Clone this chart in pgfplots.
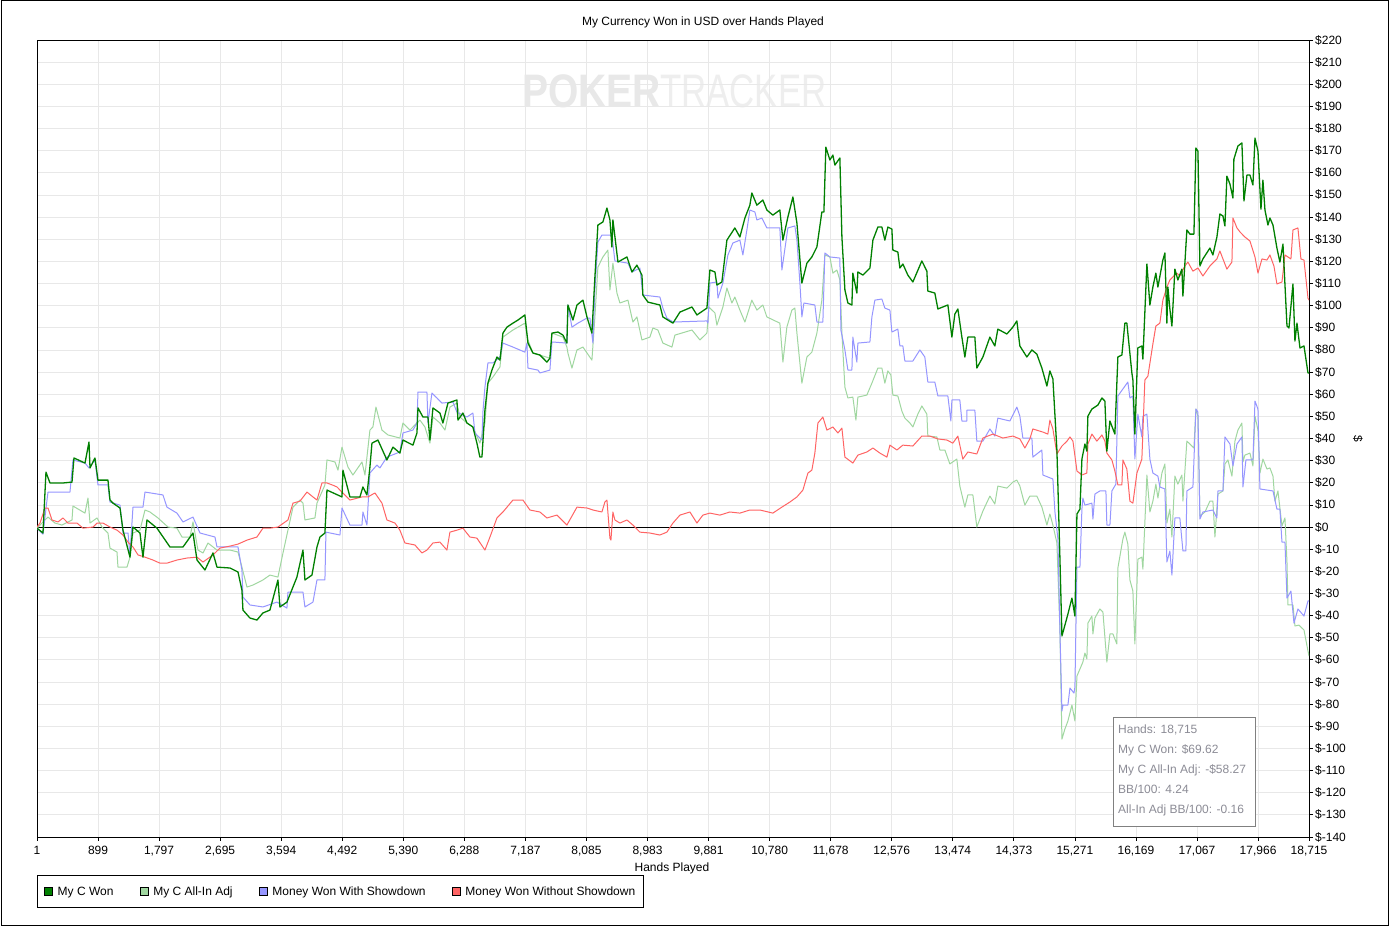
\documentclass[border=0pt]{standalone}
\usepackage{pgfplots}
\pgfplotsset{compat=1.18}
\usepackage{pgfplotstable}
\usepackage{fontspec}
\setmainfont{Liberation Sans}
\definecolor{cwon}{RGB}{0,128,0}
\definecolor{cadj}{RGB}{160,215,160}
\definecolor{csd}{RGB}{150,150,255}
\definecolor{cnsd}{RGB}{255,100,100}
\definecolor{wm}{RGB}{232,232,232}
\definecolor{wm2}{RGB}{238,238,238}
\definecolor{infotxt}{RGB}{140,140,150}

\pgfplotstableread{
x y
1 -0.5
89 -2.7
133 24.8
192 19.9
383 19.9
516 20.3
545 31.2
707 28.9
766 38.4
781 26.7
854 31.2
898 21.2
1045 21.2
1075 12.2
1119 10.8
1222 8.6
1266 -1.4
1369 -13.6
1413 0
1516 -2.7
1560 -13.6
1619 3.2
1766 -0.5
1957 -9.0
2149 -9.0
2296 -2.7
2355 -14.9
2472 -19.4
2590 -11.7
2649 -18.1
2840 -18.5
2958 -20.3
3016 -28.5
3031 -37.5
3134 -41.1
3237 -42.0
3325 -38.8
3428 -37.5
3546 -23.9
3575 -36.1
3678 -33.9
3825 -22.6
3914 -10.4
3943 -23.9
4046 -21.7
4120 -9.0
4164 -4.5
4237 -2.7
4267 16.7
4488 13.6
4502 25.7
4605 13.6
4752 13.6
4796 18.1
4855 14.5
4899 27.1
4929 37.9
5017 39.3
5149 30.3
5238 36.1
5340 33.4
5385 39.3
5532 37.0
5591 42.5
5606 53.8
5679 49.7
5753 49.7
5782 39.3
5826 53.8
5929 51.5
5973 47.0
6047 56.0
6179 57.4
6194 48.3
6267 51.5
6326 47.0
6414 45.2
6473 37.9
6517 31.6
6547 31.6
6591 52.8
6635 65.0
6694 70.9
6768 76.8
6812 75.4
6856 87.6
6915 90.3
7003 92.1
7077 93.5
7179 95.8
7224 83.1
7297 78.6
7400 77.7
7503 74.5
7547 76.3
7577 87.6
7665 88.1
7739 86.7
7797 83.1
7812 100.3
7886 93.5
7945 100.3
8033 102.5
8092 94.9
8165 87.6
8209 112.9
8253 136.4
8327 137.8
8386 144.1
8430 138.7
8459 126.5
8474 138.7
8548 119.7
8680 122.0
8754 115.2
8827 118.3
8901 113.8
8915 104.8
8989 101.6
9165 100.3
9209 94.9
9357 92.1
9460 97.1
9637 99.4
9710 95.8
9857 98.9
9901 116.1
9975 115.2
10004 109.3
10077 110.7
10151 129.6
10268 135.1
10342 131.0
10416 139.6
10489 145.4
10518 150.9
10592 145.4
10680 147.7
10739 143.2
10827 140.9
10930 143.2
10975 129.6
11048 140.0
11122 149.1
11181 137.3
11254 110.2
11328 119.2
11401 122.0
11475 126.5
11548 142.3
11578 142.3
11607 171.6
11666 165.8
11710 168.0
11740 163.5
11813 166.7
11843 131.0
11887 107.1
11931 101.2
11990 100.3
12004 114.7
12063 105.7
12078 115.2
12152 113.8
12255 117.0
12299 129.6
12372 135.5
12431 135.5
12475 129.6
12519 135.5
12578 134.6
12593 125.1
12666 124.2
12696 117.0
12740 118.8
12813 113.8
12887 110.7
13019 120.2
13093 115.6
13107 106.6
13210 105.7
13255 98.5
13402 100.3
13461 85.8
13505 96.2
13549 98.5
13608 85.8
13652 76.8
13696 85.8
13799 85.8
13828 71.8
13917 76.8
14020 85.8
14093 81.8
14137 89.4
14270 87.2
14358 90.3
14417 93.1
14461 81.8
14564 76.8
14638 80.0
14711 78.1
14785 71.8
14859 63.7
14903 70.5
14947 66.9
15006 34.8
15050 -13.6
15080 -49.2
15124 -44.3
15168 -39.3
15227 -32.1
15271 -40.2
15301 5.9
15345 8.1
15374 30.7
15418 37.5
15447 34.3
15462 50.1
15521 53.3
15609 55.1
15668 58.3
15712 56.9
15741 34.3
15786 47.9
15859 42.0
15903 76.8
15962 77.7
16006 92.1
16035 92.1
16109 69.6
16124 66.4
16153 42.0
16197 80.9
16256 81.8
16271 75.9
16330 118.8
16374 100.3
16418 108.4
16462 114.7
16492 108.4
16565 120.6
16595 123.8
16624 92.1
16639 108.4
16668 98.5
16698 90.8
16742 116.5
16786 111.6
16845 116.5
16860 104.3
16918 134.2
16963 132.3
17022 132.3
17051 171.2
17081 169.8
17110 117.9
17154 121.1
17257 126.0
17301 122.9
17360 131.0
17404 141.4
17449 140.5
17478 136.0
17507 158.5
17552 154.9
17596 148.6
17610 166.2
17669 172.1
17728 173.5
17758 147.3
17802 159.0
17846 159.0
17890 154.5
17920 175.7
17964 169.8
18008 143.6
18037 156.7
18067 143.2
18111 136.4
18140 139.6
18185 136.4
18243 126.0
18287 119.7
18332 127.8
18391 90.8
18420 89.9
18479 109.8
18508 84.0
18538 92.1
18582 80.9
18641 81.8
18700 69.6
18715 69.62
}\wontable

\pgfplotstableread{
x y
1 -0.5
89 -3.2
148 12.2
163 15.8
486 15.8
530 30.3
707 28.9
766 26.7
854 30.3
898 19.0
1045 19.0
1075 11.3
1222 9.9
1266 -2.7
1340 -2.7
1369 -12.6
1413 9.0
1560 9.0
1590 15.8
1854 14.5
1913 9.0
2060 6.3
2149 2.3
2296 4.5
2399 -2.7
2619 -4.5
2649 -9.0
2958 -9.0
3016 -19.4
3031 -31.6
3134 -35.2
3325 -36.1
3531 -33.9
3678 -36.6
3693 -29.4
3914 -29.4
3943 -36.1
4061 -33.9
4120 -23.9
4237 -23.9
4252 -2.3
4458 -3.6
4488 8.6
4605 0.9
4782 0.9
4796 6.8
4855 0.9
4899 24.4
5002 28.0
5046 26.7
5149 31.6
5340 33.9
5385 42.5
5532 43.8
5591 47.0
5606 61.0
5738 61.0
5753 47.0
5811 60.5
5885 58.3
5958 56.0
6120 56.5
6179 51.9
6326 49.7
6414 51.5
6444 42.5
6547 39.3
6561 51.9
6591 63.2
6635 74.1
6709 74.1
6812 76.8
6856 83.1
7003 81.3
7179 79.0
7209 83.1
7224 71.8
7371 70.9
7400 69.6
7547 70.9
7577 83.6
7797 83.1
7812 100.3
7871 90.3
7959 92.1
8092 94.4
8136 94.4
8180 83.1
8209 107.1
8253 128.7
8312 131.9
8459 131.9
8503 120.2
8695 119.2
8754 115.2
8871 117.0
8915 104.8
9165 103.9
9209 98.9
9268 94.4
9357 92.6
9857 93.1
9872 92.1
9901 110.2
10004 110.7
10019 103.4
10092 110.2
10166 122.9
10239 128.3
10342 129.6
10386 122.9
10445 134.2
10489 143.2
10563 142.3
10592 138.7
10666 139.6
10739 135.1
10930 135.1
10960 116.1
11048 135.1
11151 136.0
11181 129.6
11225 110.2
11254 94.9
11284 101.2
11445 100.3
11475 92.6
11563 92.6
11592 123.8
11666 122.0
11813 121.5
11828 89.0
11887 80.0
11931 70.9
11990 70.9
12004 85.8
12063 74.5
12078 83.1
12255 83.6
12284 94.9
12328 102.5
12431 103.0
12475 98.9
12549 98.0
12578 88.1
12666 89.4
12696 81.8
12740 81.8
12769 75.0
12887 75.0
12990 80.0
13063 76.8
13107 65.5
13210 65.5
13255 59.2
13402 59.2
13446 47.9
13461 57.4
13578 57.4
13608 47.9
13681 47.9
13683 52.8
13799 52.8
13828 38.8
13917 38.8
14020 44.3
14093 41.1
14137 49.2
14314 47.9
14417 54.2
14461 50.1
14505 40.2
14638 40.2
14652 31.6
14785 34.8
14800 23.5
14947 21.7
14976 7.2
15021 -5.4
15050 -46.1
15080 -83.1
15095 -80.4
15168 -80.4
15198 -72.7
15257 -75.0
15271 -72.3
15301 -18.1
15345 -18.1
15374 8.1
15388 13.1
15418 9.9
15521 10.8
15536 3.6
15565 14.9
15638 16.3
15727 16.3
15741 0.9
15786 0.9
15815 16.3
15874 19.4
15903 59.2
16050 65.5
16080 58.3
16124 59.2
16153 30.7
16197 51.0
16256 40.7
16271 50.1
16330 51.0
16374 30.7
16418 24.4
16492 23.0
16521 18.1
16595 17.2
16624 -15.8
16668 -10.8
16698 -21.7
16742 4.1
16815 4.1
16860 -10.8
16904 -10.8
16918 16.3
17007 18.1
17051 53.3
17081 51.9
17110 3.6
17154 6.8
17301 7.7
17360 4.1
17375 16.3
17449 16.3
17478 40.7
17552 37.5
17596 27.6
17655 37.5
17728 40.7
17743 18.1
17787 30.3
17890 30.3
17920 56.9
17964 53.3
17993 17.2
18185 16.3
18243 8.1
18287 8.1
18317 -6.8
18361 -6.8
18391 -32.1
18449 -28.9
18494 -43.4
18552 -37.0
18641 -40.2
18700 -33.4
18715 -33.4
}\sdtable

\pgfplotstableread{
x y
1 -0.5
118 3.2
163 4.5
265 1.8
369 0.9
516 3.2
530 9.5
707 6.3
751 13.1
781 1.8
884 4.1
957 0
1045 -2.7
1075 -9.5
1178 -11.3
1192 -18.1
1325 -18.1
1369 -13.6
1413 -2.7
1516 -1.4
1590 7.7
1663 6.8
1781 4.1
1928 0
2060 -0.5
2134 -4.5
2252 -4.5
2296 2.3
2369 -10.4
2443 -11.7
2516 -7.2
2649 -10.4
2840 -10.4
2958 -11.3
3016 -18.1
3090 -27.1
3178 -26.2
3325 -23.9
3428 -21.7
3546 -22.6
3620 -11.7
3693 -1.4
3767 9.0
3870 12.2
3914 10.8
3943 3.2
4090 4.1
4120 10.8
4237 19.0
4267 30.3
4385 29.4
4429 25.7
4488 36.1
4576 27.1
4649 23.5
4782 29.4
4826 23.5
4899 43.8
4943 45.2
4988 54.2
5076 43.8
5164 41.6
5340 40.2
5385 47.0
5488 43.8
5561 46.1
5635 48.3
5708 45.2
5782 37.9
5826 49.7
5929 47.0
6003 43.8
6076 54.2
6179 56.0
6223 49.7
6326 47.0
6414 45.2
6517 37.9
6591 47.0
6635 65.0
6709 67.8
6812 72.3
6856 85.8
7003 89.0
7179 92.1
7224 84.5
7297 78.6
7547 76.3
7577 87.6
7739 85.8
7797 81.3
7812 78.6
7871 71.8
7945 80.0
8033 81.3
8165 75.4
8209 94.9
8253 117.4
8327 122.0
8400 125.1
8430 107.1
8474 119.2
8533 105.7
8577 101.2
8695 102.5
8768 92.6
8827 94.9
8901 84.5
9018 85.8
9062 89.9
9136 89.0
9209 83.1
9342 81.3
9386 86.7
9637 89.0
9754 84.5
9857 87.6
9886 99.4
9975 96.7
10004 91.2
10092 99.4
10151 108.0
10224 101.2
10268 103.9
10342 98.0
10416 92.6
10518 102.5
10592 98.0
10680 100.3
10739 94.9
10930 92.1
10975 74.5
11033 90.3
11107 98.0
11151 98.9
11181 87.6
11254 65.0
11328 76.8
11401 79.0
11475 87.6
11548 102.5
11592 122.9
11666 122.0
11710 114.7
11769 116.1
11813 111.6
11843 87.6
11887 63.2
11931 58.3
12004 58.7
12049 48.3
12078 58.7
12210 59.6
12284 65.0
12372 71.8
12431 71.8
12475 65.0
12519 70.5
12563 68.7
12593 59.6
12666 59.2
12725 52.4
12769 49.2
12843 47.0
12887 45.2
12960 51.0
13019 54.7
13093 51.0
13107 41.1
13240 40.7
13284 34.8
13358 34.8
13431 28.5
13534 30.7
13578 18.5
13652 9.0
13696 14.5
13770 14.5
13828 0
13917 7.2
14020 14.0
14093 10.4
14137 18.5
14270 17.6
14358 20.3
14417 21.2
14461 18.5
14535 9.9
14608 14.0
14711 14.0
14785 9.0
14859 0.9
14903 5.9
14947 0.9
15006 -7.2
15050 -46.1
15080 -95.8
15124 -91.2
15168 -87.6
15227 -80.4
15271 -87.6
15301 -67.3
15388 -61.0
15418 -56.9
15447 -59.6
15462 -43.4
15521 -40.2
15536 -48.3
15565 -41.1
15638 -37.0
15683 -38.4
15741 -61.0
15786 -48.3
15830 -48.3
15888 -52.8
15903 -18.5
15977 -5.4
16006 -2.3
16050 -7.7
16080 -23.9
16124 -28.9
16153 -52.8
16197 -14.5
16256 -13.6
16271 -19.0
16330 23.5
16374 6.8
16418 11.7
16462 19.4
16492 13.1
16551 24.4
16595 28.5
16624 1.8
16668 8.1
16698 -4.5
16742 23.0
16786 19.4
16845 23.5
16860 11.7
16918 38.8
16963 37.5
17022 35.7
17051 53.3
17081 50.1
17110 5.0
17184 6.8
17257 11.7
17301 11.7
17331 -4.5
17375 14.9
17449 16.3
17478 28.5
17522 30.3
17581 23.0
17625 38.8
17669 43.8
17728 47.0
17743 29.4
17772 32.5
17846 33.4
17890 27.6
17920 50.1
17964 43.8
17993 24.4
18037 30.7
18096 26.2
18140 26.7
18185 23.0
18214 11.7
18258 16.3
18317 0.5
18361 4.1
18391 -15.8
18405 -35.2
18479 -35.2
18508 -44.7
18567 -44.3
18641 -46.5
18700 -56.0
18715 -58.27
}\adjtable

\pgfplotstableread{
x y
1 0
45 1.8
118 8.6
163 8.6
221 3.2
310 2.3
383 4.1
457 1.8
589 1.8
678 -0.5
825 0
884 1.8
972 1.8
1075 0
1178 -1.4
1266 -3.6
1340 -6.8
1413 -9.0
1487 -12.6
1590 -13.6
1707 -14.9
1810 -16.3
1913 -16.3
2060 -14.9
2207 -14.0
2355 -13.6
2443 -15.8
2590 -12.6
2693 -9.5
2840 -8.6
2958 -7.7
3090 -5.9
3237 -4.5
3325 -0.5
3428 -0.5
3546 0
3693 3.2
3767 10.8
3870 11.7
3973 15.8
4061 13.6
4120 12.2
4193 19.9
4267 19.9
4355 18.9
4414 18.1
4488 15.8
4605 12.2
4782 13.6
4870 13.6
4973 15.4
5076 10.8
5149 3.2
5267 1.8
5340 -1.4
5414 -7.2
5561 -8.1
5664 -11.7
5738 -10.4
5826 -7.2
5929 -6.8
6032 -10.4
6076 -2.3
6179 -1.4
6267 -0.5
6370 -4.5
6473 -5.0
6591 -10.4
6665 -4.5
6768 4.1
6856 6.8
7003 12.2
7150 12.2
7253 7.7
7400 6.8
7503 4.1
7650 5.4
7797 0.9
7945 9.0
8092 8.6
8180 7.7
8312 6.8
8356 11.3
8386 12.2
8430 -5.0
8445 -5.9
8474 6.8
8503 3.2
8577 1.8
8680 3.2
8768 0.9
8871 -2.3
9018 -2.7
9165 -3.6
9268 -2.3
9357 1.8
9460 5.4
9607 6.8
9710 1.8
9798 5.4
9901 6.3
10048 5.4
10195 6.8
10342 6.3
10489 7.7
10636 7.7
10827 6.3
10960 9.0
11078 11.3
11181 13.6
11269 16.7
11343 24.4
11401 25.7
11445 33.4
11490 47.0
11563 49.7
11622 43.8
11710 45.2
11784 42.5
11843 44.7
11887 31.6
12004 28.9
12078 32.5
12210 33.9
12299 35.7
12402 33.4
12505 31.6
12549 37.0
12652 34.8
12740 37.0
12887 36.6
13019 41.1
13137 41.1
13255 39.8
13387 39.3
13475 37.9
13549 41.1
13622 30.7
13696 33.9
13828 33.0
13917 40.2
14064 42.0
14211 40.2
14358 41.1
14461 39.8
14535 35.7
14608 39.8
14652 44.3
14800 42.9
14873 42.0
14903 48.3
14947 44.3
15006 33.0
15080 36.6
15154 38.8
15198 40.7
15242 38.8
15301 25.3
15374 23.5
15447 24.4
15462 37.5
15521 42.0
15594 38.8
15668 41.6
15712 38.8
15741 33.4
15815 30.3
15859 25.3
15903 19.0
15962 19.0
15977 30.3
16035 26.2
16080 11.7
16124 10.8
16183 24.4
16256 30.7
16300 66.4
16345 68.2
16418 82.7
16462 90.8
16521 92.1
16565 102.5
16624 108.4
16668 111.6
16771 114.7
16815 113.4
16889 117.9
16933 119.7
17007 115.6
17081 117.0
17154 113.4
17257 117.9
17360 121.1
17404 124.7
17449 121.1
17507 116.5
17581 119.7
17596 139.6
17655 135.1
17699 133.3
17772 131.0
17846 129.2
17920 122.0
17964 114.7
18023 121.1
18096 120.6
18140 122.9
18199 117.9
18243 109.8
18317 110.7
18361 122.9
18449 121.1
18479 134.2
18552 135.1
18596 121.1
18641 120.6
18700 103.4
18715 102.5
}\nsdtable

\begin{document}
\begin{tikzpicture}[font=\fontsize{12}{14}\selectfont]
\useasboundingbox (0,0) rectangle (1392pt,928pt);
\fill[white] (0,0) rectangle (1392pt,928pt);
% watermark
\node[anchor=base west, inner sep=0, text=wm, font=\fontsize{47}{50}\selectfont\bfseries] at (522pt,820pt) {\scalebox{0.83}[1]{POKER}};
\node[anchor=base west, inner sep=0, text=wm2, font=\fontsize{47}{50}\selectfont] at (660pt,820pt) {\scalebox{0.74}[1]{TRACKER}};
\begin{axis}[
  at={(37pt,91pt)}, anchor=south west,
  scale only axis, width=1272pt, height=797pt,
  xmin=1, xmax=18715, ymin=-140, ymax=220,
  axis line style={black, line width=0.9pt},
  tick style={black, line width=0.8pt},
  tick align=outside, major tick length=4pt,
  xtick pos=bottom, ytick pos=right,
  yticklabel pos=right,
  scaled x ticks=false, scaled y ticks=false,
  grid=major, major grid style={draw=black!9, line width=0.8pt},
  xtick={1,899,1797,2695,3594,4492,5390,6288,7187,8085,8983,9881,10780,11678,12576,13474,14373,15271,16169,17067,17966,18715},
  xticklabels={1,899,{1,797},{2,695},{3,594},{4,492},{5,390},{6,288},{7,187},{8,085},{8,983},{9,881},{10,780},{11,678},{12,576},{13,474},{14,373},{15,271},{16,169},{17,067},{17,966},{18,715}},
  ytick={-140,-130,...,220},
  /pgf/number format/assume math mode=true,
  yticklabel={\textdollar\pgfmathprintnumber{\tick}},
  yticklabel style={anchor=west, inner sep=1pt, xshift=1pt},
  xticklabel style={inner sep=2pt, yshift=-3pt},
  legend columns=4,
  legend style={at={(0,-0.048)}, anchor=north west, draw=black, line width=0.8pt,
    inner xsep=7pt, inner ysep=9.5pt, font=\fontsize{12}{14}\selectfont,
    /tikz/every odd column/.append style={column sep=3pt},
    /tikz/every even column/.append style={column sep=25pt},
    nodes={inner sep=1.5pt}},
  legend cell align=left,
  legend image code/.code={\draw[#1, fill, draw=black, line width=0.8pt] (0pt,-4pt) rectangle (8pt,4pt);},
  clip=true,
]
\addlegendimage{color=cwon}
\addlegendimage{color=cadj}
\addlegendimage{color=csd}
\addlegendimage{color=cnsd}
\addplot[black, line width=0.8pt, forget plot] coordinates {(1,0) (18715,0)};
\addplot[color=cadj, line width=1pt, line join=round, forget plot] table[x=x,y=y] {\adjtable};
\addplot[color=csd, line width=1pt, line join=round, forget plot] table[x=x,y=y] {\sdtable};
\addplot[color=cnsd, line width=1pt, line join=round, forget plot] table[x=x,y=y] {\nsdtable};
\addplot[color=cwon, line width=1.3pt, line join=round, forget plot] table[x=x,y=y] {\wontable};
\legend{My C Won, My C All-In Adj, Money Won With Showdown, Money Won Without Showdown}
\end{axis}
% title and labels
\node[anchor=center] at (703pt,906pt) {My Currency Won in USD over Hands Played};
\node[anchor=center] at (672pt,60pt) {Hands Played};
\node[rotate=-90, anchor=center] at (1358pt,489pt) {\textdollar};
% info box
\draw[black!50, line width=0.9pt, fill=white] (1113pt,102pt) rectangle (1255pt,211pt);
\begin{scope}[every node/.style={anchor=base west, inner sep=0, text=infotxt}]
\node at (1118pt,194pt) {Hands: 18,715};
\node at (1118pt,174pt) {My C Won: \$69.62};
\node at (1118pt,154pt) {My C All-In Adj: -\$58.27};
\node at (1118pt,134pt) {BB/100: 4.24};
\node at (1118pt,114pt) {All-In Adj BB/100: -0.16};
\end{scope}
% outer frame
\draw[black, line width=1pt] (1.5pt,2.5pt) rectangle (1388pt,927.5pt);
\end{tikzpicture}
\end{document}
